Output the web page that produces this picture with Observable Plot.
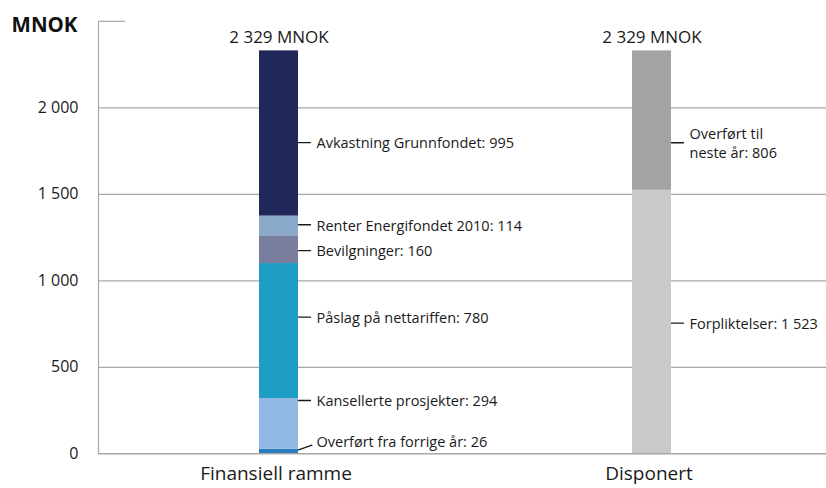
<!DOCTYPE html>
<html>
<head>
<meta charset="utf-8">
<script src="https://cdn.jsdelivr.net/npm/d3@7"></script>
<script src="https://cdn.jsdelivr.net/npm/@observablehq/plot@0.6"></script>
<style>
  html, body { margin: 0; padding: 0; background: #fff; }
  #chart { width: 826px; height: 488px; }
</style>
</head>
<body>
<div id="chart"></div>
<script>
// ---- data ----
const categories = ["Finansiell ramme", "Disponert"];
const totals = [2329, 2329];
const totalLabels = ["2 329 MNOK", "2 329 MNOK"];

// Finansiell ramme, bottom to top
const finNames = ["Overført fra forrige år", "Kansellerte prosjekter", "Påslag på nettariffen", "Bevilgninger", "Renter Energifondet 2010", "Avkastning Grunnfondet"];
const finValues = [26, 294, 780, 160, 114, 955];
const finLabels = ["Overført fra forrige år: 26", "Kansellerte prosjekter: 294", "Påslag på nettariffen: 780", "Bevilgninger: 160", "Renter Energifondet 2010: 114", "Avkastning Grunnfondet: 995"];
const finColors = ["#2b7cc1", "#8fb9e3", "#1d9cc4", "#7a7e9e", "#8aa8c8", "#1f2858"];

// Disponert, bottom to top
const dispNames = ["Forpliktelser", "Overført til neste år"];
const dispValues = [1523, 806];
const dispLabels = ["Forpliktelser: 1 523", "Overført til\nneste år: 806"];
const dispColors = ["#c9c9c9", "#a3a3a3"];

const yTicks = [0, 500, 1000, 1500, 2000];
const yUnit = "MNOK";

// ---- layout (label anchor values in y units, leader geometry) ----
const finLabelAt = [73, 308, 790, 1175, 1324, 1799];
const finLeaderAt = [23, 308, 790, 1175, 1324, 1799];
const finLeaderRot = [71, 90, 90, 90, 90, 90];
const finLeaderLen = [13, 11, 11, 11, 11, 11];
const dispLabelAt = [755, 1798];

// ---- build tables ----
const segs = [];
finNames.forEach((n, i) => segs.push({cat: categories[0], name: n, value: finValues[i], color: finColors[i]}));
dispNames.forEach((n, i) => segs.push({cat: categories[1], name: n, value: dispValues[i], color: dispColors[i]}));

const labels = [];
finLabels.forEach((t, i) => labels.push({cat: categories[0], text: t, y: finLabelAt[i], ly: finLeaderAt[i], rot: finLeaderRot[i], len: finLeaderLen[i]}));
dispLabels.forEach((t, i) => labels.push({cat: categories[1], text: t, y: dispLabelAt[i], ly: dispLabelAt[i], rot: 90, len: 11}));

const tots = categories.map((c, i) => ({cat: c, total: totals[i], text: totalLabels[i]}));

const locale = d3.formatLocale({decimal: ",", thousands: " ", grouping: [3], currency: ["", ""]});
const fmt = locale.format(",");

const FONT = "'Open Sans', 'Noto Sans', sans-serif";
const GRID = "#a8a8a8";
const half = 19.5;

const line = {draw(ctx, l) { ctx.moveTo(0, 0); ctx.lineTo(0, -l); }};

const chart = Plot.plot({
  width: 826,
  height: 488,
  marginLeft: 98,
  marginRight: 0,
  marginTop: 21,
  marginBottom: 35,
  style: {fontFamily: FONT, background: "#fff", color: "#1a1a1a"},
  x: {domain: categories, range: [92, 838], paddingInner: 0.8954, paddingOuter: 0.4477, label: null},
  y: {domain: [0, 2500], range: [453.3, 20.8], label: null},
  color: {type: "identity"},
  marks: [
    Plot.ruleY(yTicks.filter(d => d > 0), {stroke: GRID, strokeWidth: 1.2}),
    Plot.ruleY([2500], {stroke: GRID, strokeWidth: 1.2, insetRight: 701}),
    Plot.barY(segs, {x: "cat", y: "value", fill: "color"}),
    Plot.ruleY([0], {stroke: GRID, strokeWidth: 1.5}),
    Plot.frame({anchor: "left", stroke: GRID, strokeWidth: 1.2}),
    Plot.axisY({ticks: yTicks, tickFormat: fmt, tickSize: 0, tickPadding: 20, fontSize: 16, fill: "#1a1a1a"}),
    Plot.axisX({tickSize: 0, tickPadding: 13, fontSize: 19, fill: "#1a1a1a", dx: -3}),
    Plot.vector(labels, {x: "cat", y: "ly", rotate: "rot", length: "len", anchor: "start", dx: half, shape: line, stroke: "#1a1a1a", strokeWidth: 1.3}),
    Plot.text(labels, {x: "cat", y: "y", text: "text", dx: half + 18, textAnchor: "start", lineAnchor: "middle", fontSize: 14.5, fill: "#1a1a1a", lineHeight: 1.25}),
    Plot.text(tots, {x: "cat", y: "total", text: "text", dy: -13, lineAnchor: "middle", fontSize: 17, fill: "#1a1a1a"}),
    Plot.text([yUnit], {frameAnchor: "top-left", dx: -21, dy: 4, textAnchor: "end", lineAnchor: "middle", fontSize: 20.5, fontWeight: "bold", fill: "#111"})
  ]
});
document.getElementById("chart").appendChild(chart);
</script>
</body>
</html>
